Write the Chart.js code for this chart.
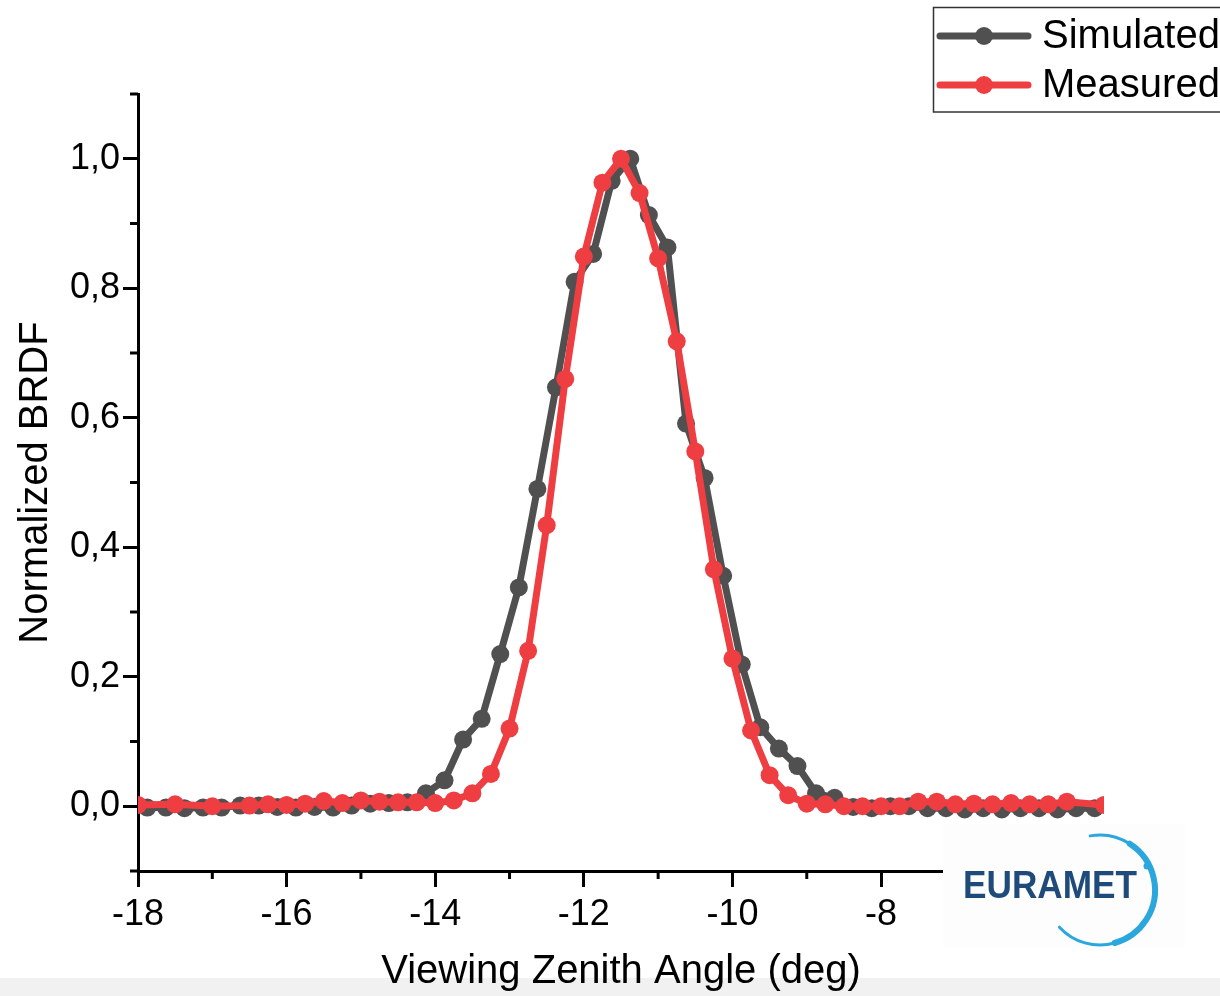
<!DOCTYPE html>
<html><head><meta charset="utf-8">
<script src="https://cdn.jsdelivr.net/npm/chart.js@4.4.1/dist/chart.umd.min.js"></script>
<style>
html,body{margin:0;padding:0;}
body{width:1220px;height:996px;overflow:hidden;background:linear-gradient(to bottom,#ffffff 0,#ffffff 978px,#f1f1f1 978px,#f1f1f1 996px);}
canvas{display:block;}
</style></head><body>
<canvas id="c" width="1220" height="996"></canvas>
<script>
// ---- data ----
const simX = [-17.875,-17.625,-17.375,-17.125,-16.875,-16.625,-16.375,-16.125,-15.875,-15.625,-15.375,-15.125,
  -14.875,-14.625,-14.375,-14.125,-13.875,-13.625,-13.375,-13.125,-12.875,-12.625,-12.375,-12.125,
  -11.875,-11.625,-11.375,-11.125,-10.875,-10.625,-10.375,-10.125,-9.875,-9.625,-9.375,-9.125,
  -8.875,-8.625,-8.375,-8.125,-7.875,-7.625,-7.375,-7.125,-6.875,-6.625,-6.375,-6.125,
  -5.875,-5.625,-5.375,-5.125];
const simY = [-0.002,-0.002,-0.003,-0.002,-0.002,0.001,0.001,-0.001,-0.002,-0.001,-0.002,0.001,
  0.004,0.005,0.006,0.020,0.040,0.103,0.135,0.235,0.338,0.490,0.647,0.810,
  0.853,0.966,1.000,0.913,0.863,0.591,0.507,0.356,0.219,0.122,0.089,0.062,
  0.020,0.013,-0.001,-0.003,0.000,0.000,-0.003,-0.003,-0.005,-0.003,-0.005,-0.003,
  -0.003,-0.005,-0.003,-0.003];
const measX = [-18,-17.5,-17,-16.5,-16.25,-16,-15.75,-15.5,-15.25,-15,-14.75,-14.5,-14.25,-14,
  -13.75,-13.5,-13.25,-13,-12.75,-12.5,-12.25,-12,-11.75,-11.5,-11.25,-11,-10.75,-10.5,
  -10.25,-10,-9.75,-9.5,-9.25,-9,-8.75,-8.5,-8.25,-8,-7.75,-7.5,-7.25,-7,-6.75,-6.5,
  -6.25,-6,-5.75,-5.5,-5];
const measY = [0.002,0.003,0.000,0.001,0.003,0.002,0.004,0.008,0.005,0.009,0.007,0.006,0.006,0.005,
  0.009,0.020,0.050,0.120,0.240,0.434,0.660,0.849,0.963,1.000,0.947,0.846,0.718,0.548,
  0.366,0.228,0.117,0.048,0.017,0.004,0.003,0.000,0.000,0.000,0.000,0.007,0.007,0.003,0.004,0.003,
  0.005,0.003,0.003,0.007,0.002];
const seriesNames = ['Simulated','Measured'];
const xMajorTicks = [-18,-16,-14,-12,-10,-8,-6];
const xTickLabels = ['-18','-16','-14','-12','-10','-8','-6'];
const xMinorTicks = [-17,-15,-13,-11,-9,-7,-5];
const yMajorTicks = [0,0.2,0.4,0.6,0.8,1.0];
const yTickLabels = ['0,0','0,2','0,4','0,6','0,8','1,0'];
const yMinorTicks = [-0.1,0.1,0.3,0.5,0.7,0.9,1.1];
const xTitle = 'Viewing Zenith Angle (deg)';
const yTitle = 'Normalized BRDF';
const logoText = 'EURAMET';

const GRAY = '#505050', RED = '#ee3e42';
const FONT = '"Liberation Sans", Arial, Helvetica, sans-serif';

function majorIndex(arr, v){ return arr.findIndex(a => Math.abs(a - v) < 1e-6); }

const decor = {
  id: 'decor',
  afterDraw(chart){
    const ctx = chart.ctx, xs = chart.scales.x, ys = chart.scales.y, ca = chart.chartArea;
    ctx.save();
    // minor ticks
    ctx.strokeStyle = '#000'; ctx.lineWidth = 3; ctx.lineCap = 'butt';
    xMinorTicks.forEach(v => { const p = xs.getPixelForValue(v); ctx.beginPath(); ctx.moveTo(p, ca.bottom); ctx.lineTo(p, ca.bottom + 8); ctx.stroke(); });
    yMinorTicks.forEach(v => { const p = ys.getPixelForValue(v); ctx.beginPath(); ctx.moveTo(ca.left - 8, p); ctx.lineTo(ca.left, p); ctx.stroke(); });
    // legend
    ctx.fillStyle = '#fff'; ctx.fillRect(933, 7, 300, 105);
    ctx.strokeStyle = '#333'; ctx.lineWidth = 1.5; ctx.strokeRect(933.5, 7.5, 300, 104.5);
    const rows = [36, 85];
    chart.data.datasets.forEach((ds, i) => {
      const y = rows[i];
      ctx.strokeStyle = ds.borderColor; ctx.lineWidth = 7; ctx.lineCap = 'round';
      ctx.beginPath(); ctx.moveTo(940, y); ctx.lineTo(1028, y); ctx.stroke();
      ctx.fillStyle = ds.borderColor; ctx.beginPath(); ctx.arc(984, y, 9, 0, Math.PI * 2); ctx.fill();
      ctx.fillStyle = '#000'; ctx.font = '40px ' + FONT; ctx.textBaseline = 'middle'; ctx.textAlign = 'left';
      ctx.fillText(ds.label, 1042, y + 1);
    });
    // logo
    ctx.fillStyle = '#fdfdfd'; ctx.fillRect(943, 824, 242, 124);
    ctx.font = 'bold 38px ' + FONT; ctx.textBaseline = 'alphabetic'; ctx.textAlign = 'left';
    const w = ctx.measureText(logoText).width;
    ctx.save(); ctx.translate(963, 898); ctx.scale(174 / w, 1);
    ctx.fillStyle = '#1f4b7a'; ctx.fillText(logoText, 0, 0); ctx.restore();
    ctx.strokeStyle = '#2ca7de'; ctx.lineCap = 'round';
    ctx.lineWidth = 3; ctx.beginPath(); ctx.arc(1100, 890, 55, -1.75, -1.0); ctx.stroke();
    ctx.lineWidth = 6; ctx.beginPath(); ctx.arc(1100, 890, 55, -1.0, 1.3); ctx.stroke();
    ctx.lineWidth = 3; ctx.beginPath(); ctx.arc(1100, 890, 55, 1.3, 2.4); ctx.stroke();
    ctx.fillStyle = '#2ca7de'; ctx.beginPath(); ctx.arc(1147, 866, 3.5, 0, Math.PI * 2); ctx.fill();
    ctx.restore();
  }
};

new Chart(document.getElementById('c'), {
  type: 'line',
  data: {
    datasets: [
      { label: seriesNames[0], data: simX.map((x, i) => ({ x, y: simY[i] })), borderColor: GRAY, backgroundColor: GRAY,
        pointBackgroundColor: GRAY, pointBorderWidth: 0, pointRadius: 9, borderWidth: 7, order: 2, clip: 0, tension: 0 },
      { label: seriesNames[1], data: measX.map((x, i) => ({ x, y: measY[i] })), borderColor: RED, backgroundColor: RED,
        pointBackgroundColor: RED, pointBorderWidth: 0, pointRadius: 9, borderWidth: 7, order: 1, clip: 0, tension: 0 }
    ]
  },
  options: {
    responsive: false, animation: false, devicePixelRatio: 1,
    layout: { padding: { top: 94, right: 116, left: 0, bottom: 0 } },
    plugins: { legend: { display: false }, tooltip: { enabled: false }, title: { display: false } },
    scales: {
      x: {
        type: 'linear', min: -18, max: -5,
        border: { display: true, color: '#000', width: 3 },
        grid: { drawOnChartArea: false, drawTicks: true, tickLength: 16, tickWidth: 3,
          tickColor: c => majorIndex(xMajorTicks, c.tick.value) >= 0 ? '#000' : 'rgba(0,0,0,0)' },
        ticks: { stepSize: 1, autoSkip: false, maxRotation: 0, padding: 6, color: '#000',
          font: { family: FONT, size: 36 },
          callback: v => { const k = majorIndex(xMajorTicks, v); return k >= 0 ? xTickLabels[k] : ''; } },
        title: { display: true, text: xTitle, color: '#000', font: { family: FONT, size: 40 }, padding: { top: 0, bottom: 0 } },
        afterFit: s => { s.height = 125; }
      },
      y: {
        type: 'linear', min: -0.1, max: 1.1,
        border: { display: true, color: '#000', width: 3 },
        grid: { drawOnChartArea: false, drawTicks: true, tickLength: 15, tickWidth: 3,
          tickColor: c => majorIndex(yMajorTicks, c.tick.value) >= 0 ? '#000' : 'rgba(0,0,0,0)' },
        ticks: { stepSize: 0.1, autoSkip: false, padding: 3, color: '#000',
          font: { family: FONT, size: 36 },
          callback: v => { const k = majorIndex(yMajorTicks, v); return k >= 0 ? yTickLabels[k] : ''; } },
        title: { display: true, text: yTitle, color: '#000', font: { family: FONT, size: 40 }, padding: { top: 12, bottom: 0 } },
        afterFit: s => { s.width = 138; }
      }
    }
  },
  plugins: [decor]
});
</script>
</body></html>
